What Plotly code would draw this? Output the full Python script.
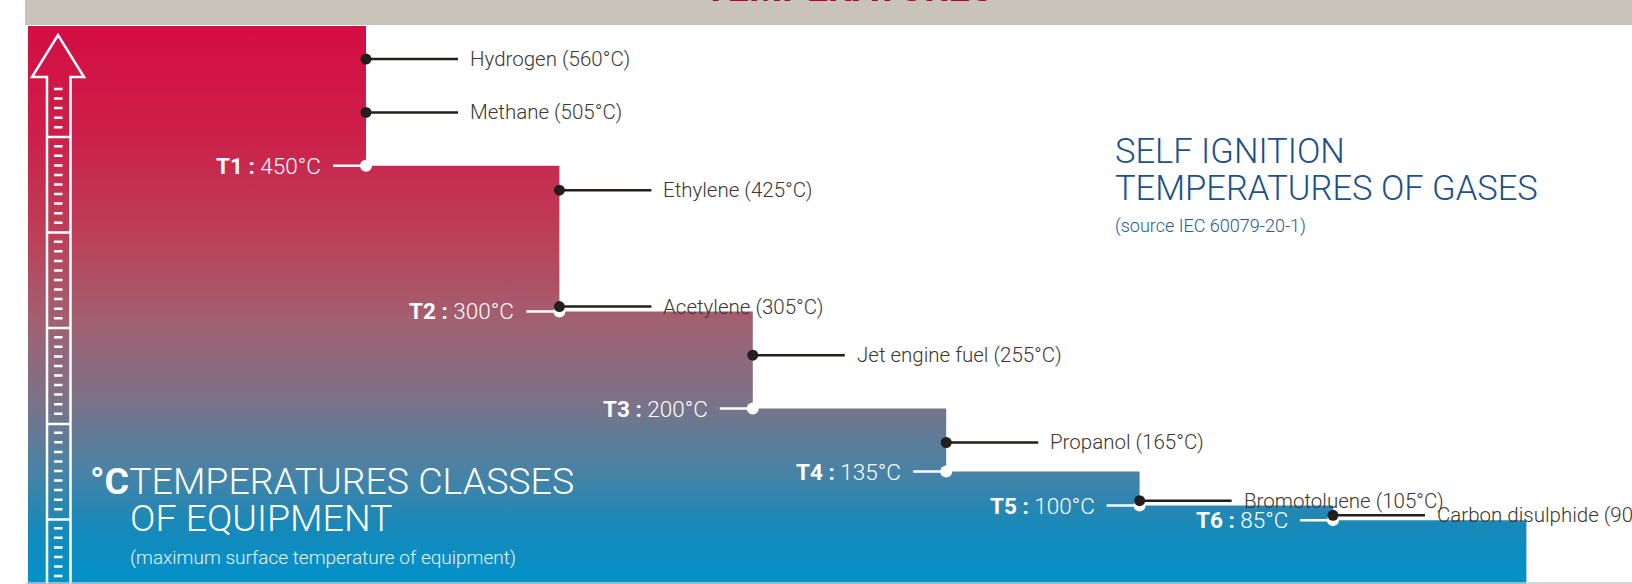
import plotly.graph_objects as go

# ---------------- data ----------------
class_names = ["T1", "T2", "T3", "T4", "T5", "T6"]
class_temps = [450, 300, 200, 135, 100, 85]

gas_names = ["Hydrogen", "Methane", "Ethylene", "Acetylene", "Jet engine fuel",
             "Propanol", "Bromotoluene", "Carbon disulphide"]
gas_temps = [560, 505, 425, 305, 255, 165, 105, 90]

banner_title = "TEMPERATURES"
right_title = ["SELF IGNITION", "TEMPERATURES OF GASES"]
right_source = "(source IEC 60079-20-1)"
left_title = ["<b>°C</b>TEMPERATURES CLASSES", "OF EQUIPMENT"]
left_note = "(maximum surface temperature of equipment)"

# ---------------- layout geometry ----------------
W, H = 1632, 584
ML, MT = 28, 26
PW, PH = W - ML, H - MT
X_RANGE = [-0.7477, 7.546]
Y_RANGE = [19.2, 594.1]
UNIT = PW / (X_RANGE[1] - X_RANGE[0])  # px per x unit


def xp(px):
    return (px - ML) / PW


def yp(py):
    return (H - py) / PH


FONT = "Roboto, 'Open Sans', sans-serif"
DARK = "#231f1c"
TXT = "#3b3531"

fig = go.Figure()

# ---------------- stepped gradient block ----------------
n = len(class_temps)
sx = [-2, -2]
sy = [0, 800]
sx.append(1)
sy.append(800)
for i, t in enumerate(class_temps):
    sx += [i + 1, i + 2]
    sy += [t, t]
sx += [n + 1, -2]
sy += [0, 0]

fig.add_trace(go.Scatter(
    x=sx, y=sy, mode="lines", fill="toself",
    line=dict(width=0, color="rgba(0,0,0,0)"),
    fillgradient=dict(
        type="vertical", start=Y_RANGE[0], stop=Y_RANGE[1],
        colorscale=[
            [0.0, "#0092ca"], [0.102, "#1789b9"], [0.204, "#4a82a5"],
            [0.258, "#5e7c98"], [0.330, "#7d7288"], [0.473, "#a26070"],
            [0.624, "#bc3f58"], [0.812, "#cd1f4a"], [1.0, "#d40d43"],
        ]),
    hoverinfo="skip", showlegend=False,
))

# ---------------- class markers (white) ----------------
cl_x, cl_y = [], []
for i, t in enumerate(class_temps):
    cl_x += [i + 1 - 33 / UNIT, i + 1, None]
    cl_y += [t, t, None]
fig.add_trace(go.Scatter(x=cl_x, y=cl_y, mode="lines",
                         line=dict(color="white", width=2.5),
                         hoverinfo="skip", showlegend=False))
fig.add_trace(go.Scatter(x=[i + 1 for i in range(n)], y=class_temps, mode="markers",
                         marker=dict(color="white", size=12),
                         hoverinfo="skip", showlegend=False))
for i, (nm, t) in enumerate(zip(class_names, class_temps)):
    fig.add_annotation(x=i + 1 - 43 / UNIT, y=t, xref="x", yref="y",
                       text=f"<b>{nm} :</b> {t}°C", showarrow=False,
                       xanchor="right", yanchor="middle",
                       font=dict(family=FONT, size=22.5, color="white", weight=300))

# ---------------- gas markers (dark) ----------------
gas_x = [1 + sum(1 for c in class_temps if c > g) for g in gas_temps]
gl_x, gl_y = [], []
for gx, g in zip(gas_x, gas_temps):
    gl_x += [gx, gx + 92 / UNIT, None]
    gl_y += [g, g, None]
fig.add_trace(go.Scatter(x=gl_x, y=gl_y, mode="lines",
                         line=dict(color=DARK, width=2.5),
                         hoverinfo="skip", showlegend=False))
fig.add_trace(go.Scatter(x=gas_x, y=gas_temps, mode="markers",
                         marker=dict(color=DARK, size=11),
                         hoverinfo="skip", showlegend=False))
for gx, nm, g in zip(gas_x, gas_names, gas_temps):
    fig.add_annotation(x=gx + 102 / UNIT, y=g, xref="x", yref="y",
                       text=f"{nm} ({g}°C)", showarrow=False,
                       xanchor="left", yanchor="middle",
                       font=dict(family=FONT, size=20.5, color=TXT, weight=300))

# ---------------- decorative arrow ----------------
outline = (f"M{xp(47)},{yp(600)} L{xp(47)},{yp(77)} L{xp(32)},{yp(77)} "
           f"L{xp(58)},{yp(35)} L{xp(84)},{yp(77)} L{xp(70.5)},{yp(77)} L{xp(70.5)},{yp(600)}")
p = []
divs = [137, 232.5, 328, 424, 519.5]
for d in divs:
    p.append(f"M{xp(47)},{yp(d)} L{xp(70.5)},{yp(d)}")
k = 0
while True:
    yy = 89 + 9.55 * k
    if yy > 590:
        break
    if k % 10 != 5:
        p.append(f"M{xp(54)},{yp(yy)} L{xp(62.5)},{yp(yy)}")
    k += 1
fig.add_shape(type="path", xref="paper", yref="paper", path=outline,
              line=dict(color="white", width=2.5), layer="above")
fig.add_shape(type="path", xref="paper", yref="paper", path=" ".join(p),
              line=dict(color="white", width=2.5), layer="above")

# ---------------- banner ----------------
fig.add_shape(type="rect", xref="paper", yref="paper",
              x0=xp(25), x1=xp(W + 5), y0=yp(25), y1=yp(-5),
              fillcolor="#cac3b9", line=dict(width=0), layer="above")
fig.add_annotation(xref="paper", yref="paper", x=xp(848), y=yp(-12),
                   text=f"<b>{banner_title}</b>", showarrow=False,
                   xanchor="center", yanchor="middle",
                   font=dict(family=FONT, size=38, color="#b5003b"))

# bottom rule
fig.add_shape(type="line", xref="paper", yref="paper",
              x0=xp(26), x1=xp(W + 5), y0=yp(583), y1=yp(583),
              line=dict(color="#c9c9c9", width=1.5), layer="above")

# ---------------- titles ----------------
BLUE = "#1d4f8a"
fig.add_annotation(xref="paper", yref="paper", x=xp(1113), y=yp(151),
                   text=right_title[0], showarrow=False, xanchor="left", yanchor="middle",
                   font=dict(family=FONT, size=34.5, color=BLUE, weight=300))
fig.add_annotation(xref="paper", yref="paper", x=xp(1113), y=yp(188),
                   text=right_title[1], showarrow=False, xanchor="left", yanchor="middle",
                   font=dict(family=FONT, size=34.5, color=BLUE, weight=300))
fig.add_annotation(xref="paper", yref="paper", x=xp(1113), y=yp(226),
                   text=right_source, showarrow=False, xanchor="left", yanchor="middle",
                   font=dict(family=FONT, size=18, color="#2a5894", weight=300))

fig.add_annotation(xref="paper", yref="paper", x=xp(88), y=yp(481),
                   text=left_title[0], showarrow=False, xanchor="left", yanchor="middle",
                   font=dict(family=FONT, size=37.5, color="white", weight=300))
fig.add_annotation(xref="paper", yref="paper", x=xp(128), y=yp(518),
                   text=left_title[1], showarrow=False, xanchor="left", yanchor="middle",
                   font=dict(family=FONT, size=37.5, color="white", weight=300))
fig.add_annotation(xref="paper", yref="paper", x=xp(128), y=yp(557),
                   text=left_note, showarrow=False, xanchor="left", yanchor="middle",
                   font=dict(family=FONT, size=19, color="#eaf2f7", weight=300))

fig.update_xaxes(range=X_RANGE, visible=False, showgrid=False, zeroline=False, fixedrange=True)
fig.update_yaxes(range=Y_RANGE, visible=False, showgrid=False, zeroline=False, fixedrange=True)
fig.update_layout(
    width=W, height=H,
    margin=dict(l=ML, r=0, t=MT, b=0, pad=0),
    paper_bgcolor="white", plot_bgcolor="white",
    showlegend=False,
)
fig.write_html("out.html", config={"displayModeBar": False},
               post_script="document.body.style.margin='0';document.body.style.overflow='hidden';")
